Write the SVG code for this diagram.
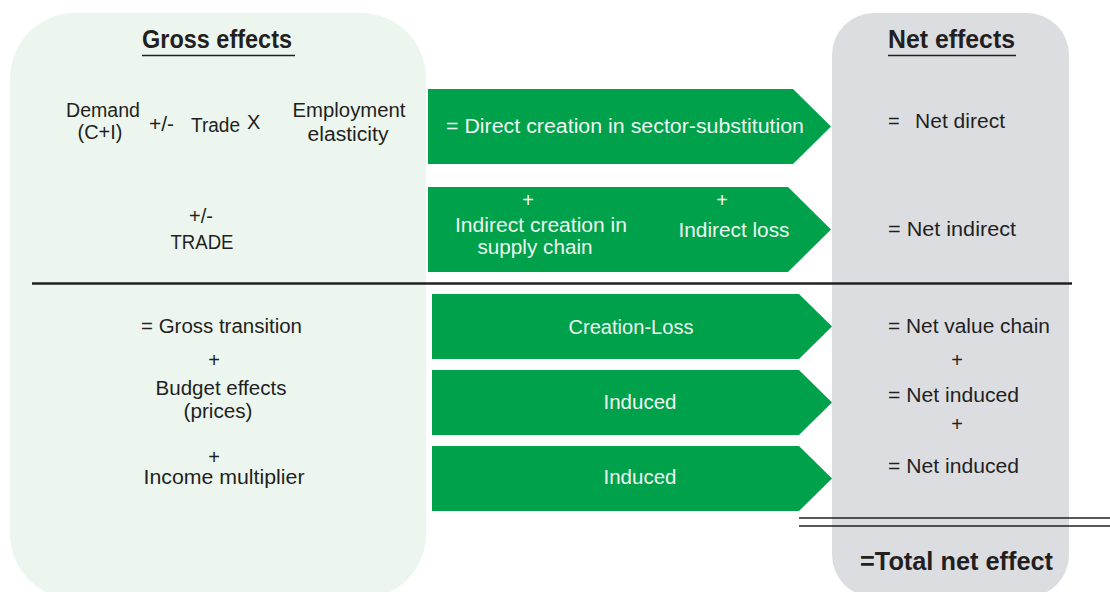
<svg xmlns="http://www.w3.org/2000/svg" width="1110" height="592" viewBox="0 0 1110 592">
<style>
text{font-family:"Liberation Sans",Arial,sans-serif;font-size:20px;fill:#231f20}
.w{fill:#eef6f0}
.h{font-weight:bold;font-size:25px}
.m{text-anchor:middle}
.arrow{fill:#00a14b}
.rule{stroke:#231f20;fill:none}
</style>
<rect width="1110" height="592" fill="#ffffff"/>
<g id="gross-panel">
<rect x="10" y="13" width="416" height="586" rx="65" fill="#ecf6ef"/>
<text class="h" x="142" y="48" textLength="150" lengthAdjust="spacingAndGlyphs">Gross effects</text>
<line class="rule" x1="142" y1="55.5" x2="295" y2="55.5" stroke-width="1.5"/>
</g>
<g id="net-panel">
<rect x="832" y="13" width="237" height="584" rx="42" fill="#dcdde0"/>
<text class="h" x="888" y="48" textLength="127" lengthAdjust="spacingAndGlyphs">Net effects</text>
<line class="rule" x1="888" y1="55.5" x2="1016" y2="55.5" stroke-width="1.5"/>
</g>
<g id="gross-direct">
<text class="m" x="103" y="117" textLength="74" lengthAdjust="spacingAndGlyphs">Demand</text>
<text class="m" x="100" y="139">(C+I)</text>
<text x="149" y="131" textLength="25" lengthAdjust="spacingAndGlyphs">+/-</text>
<text x="191" y="132" textLength="49" lengthAdjust="spacingAndGlyphs">Trade</text>
<text x="247" y="129">X</text>
<text class="m" x="349" y="117" textLength="113" lengthAdjust="spacingAndGlyphs">Employment</text>
<text class="m" x="348" y="141" textLength="81" lengthAdjust="spacingAndGlyphs">elasticity</text>
</g>
<g id="gross-trade">
<text class="m" x="201" y="223">+/-</text>
<text class="m" x="202" y="249" textLength="63" lengthAdjust="spacingAndGlyphs">TRADE</text>
</g>
<g id="gross-lower">
<text x="141" y="333" textLength="161" lengthAdjust="spacingAndGlyphs">= Gross transition</text>
<text class="m" x="214" y="367">+</text>
<text class="m" x="221" y="395" textLength="131" lengthAdjust="spacingAndGlyphs">Budget effects</text>
<text class="m" x="218" y="418" textLength="69" lengthAdjust="spacingAndGlyphs">(prices)</text>
<text class="m" x="214" y="464">+</text>
<text class="m" x="224" y="484" textLength="161" lengthAdjust="spacingAndGlyphs">Income multiplier</text>
</g>
<g id="arrow-direct">
<polygon class="arrow" points="428,89 793,89 831,126.5 793,164 428,164"/>
<text class="w" x="446" y="133" textLength="358" lengthAdjust="spacingAndGlyphs">= Direct creation in sector-substitution</text>
</g>
<g id="arrow-indirect">
<polygon class="arrow" points="428,187 788,187 831,229.5 788,272 428,272"/>
<text class="w m" x="528" y="207">+</text>
<text class="w m" x="541" y="232" textLength="172" lengthAdjust="spacingAndGlyphs">Indirect creation in</text>
<text class="w m" x="535" y="254" textLength="115" lengthAdjust="spacingAndGlyphs">supply chain</text>
<text class="w m" x="722" y="207">+</text>
<text class="w m" x="734" y="237" textLength="111" lengthAdjust="spacingAndGlyphs">Indirect loss</text>
</g>
<g id="arrow-creation-loss">
<polygon class="arrow" points="432,294 799,294 832,326.5 799,359 432,359"/>
<text class="w m" x="631" y="334" textLength="125" lengthAdjust="spacingAndGlyphs">Creation-Loss</text>
</g>
<g id="arrow-induced-1">
<polygon class="arrow" points="432,370 799,370 832,402.5 799,435 432,435"/>
<text class="w m" x="640" y="409" textLength="73" lengthAdjust="spacingAndGlyphs">Induced</text>
</g>
<g id="arrow-induced-2">
<polygon class="arrow" points="432,446 799,446 832,478.5 799,511 432,511"/>
<text class="w m" x="640" y="484" textLength="73" lengthAdjust="spacingAndGlyphs">Induced</text>
</g>
<g id="net-values">
<text x="888" y="128">=</text>
<text x="915" y="128" textLength="90" lengthAdjust="spacingAndGlyphs">Net direct</text>
<text x="888" y="236" textLength="128" lengthAdjust="spacingAndGlyphs">= Net indirect</text>
<text x="888" y="333" textLength="162" lengthAdjust="spacingAndGlyphs">= Net value chain</text>
<text class="m" x="957" y="367">+</text>
<text x="888" y="402" textLength="131" lengthAdjust="spacingAndGlyphs">= Net induced</text>
<text class="m" x="957" y="431">+</text>
<text x="888" y="473" textLength="131" lengthAdjust="spacingAndGlyphs">= Net induced</text>
</g>
<g id="total">
<text class="h" x="860" y="570" font-size="24" textLength="193" lengthAdjust="spacingAndGlyphs">=Total net effect</text>
</g>
<g id="connectors">
<line class="rule" x1="32" y1="283.5" x2="1072" y2="283.5" stroke-width="2.5"/>
<line class="rule" x1="799" y1="518" x2="1110" y2="518" stroke-width="1.5"/>
<line class="rule" x1="799" y1="526" x2="1110" y2="526" stroke-width="1.5"/>
</g>
</svg>
